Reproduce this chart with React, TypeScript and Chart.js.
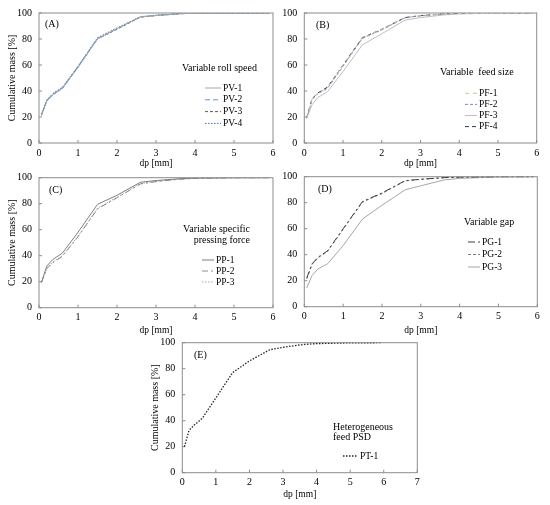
import { useEffect, useRef } from 'react';
import { Chart, registerables } from 'chart.js';

Chart.register(...registerables);

const SERIF = '"Liberation Serif", "Times New Roman", serif';

// sieve sizes dp [mm]
const sieveSizes = [0.063, 0.2, 0.35, 0.6, 1.0, 1.5, 2.0, 2.6, 3.0, 3.6, 4.0, 5.0, 5.9];

// (A) variable roll speed
const pv1 = [21, 32, 37, 42, 58, 80, 88, 97, 98, 99.4, 99.8, 100, 100];
const pv2 = [22, 33, 37.5, 42.5, 59, 80.5, 88, 97, 98.2, 99.5, 99.8, 100, 100];
const pv3 = [21.5, 32.5, 37, 42, 58.5, 80, 87.5, 96.8, 98, 99.4, 99.8, 100, 100];
const pv4 = [22, 33, 38, 43, 59, 81, 88.5, 97.2, 98.3, 99.5, 99.9, 100, 100];

// (B) variable feed size
const pf1 = [19, 34, 38.5, 42.5, 60, 81, 87.5, 96.5, 98, 99.3, 99.7, 100, 100];
const pf2 = [19, 33.5, 38, 42, 59, 80.5, 87, 96.3, 97.8, 99.2, 99.7, 100, 100];
const pf3 = [19, 29.5, 35, 39.5, 55, 75.5, 84, 94.5, 96.5, 98.5, 99.3, 99.9, 100];
const pf4 = [19.5, 34, 38.5, 43, 60, 81, 87.5, 96.5, 98, 99.3, 99.7, 100, 100];

// (C) variable specific pressing force
const pp1 = [19.5, 32, 37, 42, 58, 79.5, 86.5, 96.5, 97.8, 99.2, 99.7, 100, 100];
const pp2 = [19.5, 30, 34.5, 39.5, 54.5, 76, 84.5, 95.2, 97, 98.8, 99.4, 99.9, 100];
const pp3 = [19.5, 30.5, 35, 40, 55, 76.5, 85, 95.5, 97.2, 98.9, 99.5, 99.9, 100];

// (D) variable gap
const pg1 = [22, 33, 38, 43, 60, 81, 87.5, 97, 98, 99.3, 99.7, 100, 100];
const pg2 = [21.5, 32.5, 37.5, 42.5, 59.5, 80.5, 87, 96.8, 98, 99.2, 99.7, 100, 100];
const pg3 = [14.5, 24, 29, 33, 47, 67.5, 78, 90, 93, 97.5, 98.7, 99.8, 100];

// (E) heterogeneous feed
const pt1 = [20, 32.5, 36.5, 42, 57.5, 77, 86, 94.5, 96.5, 98.6, 99.3, 99.9, 100];

type Series = { label: string; values: number[]; color: string; dash: number[]; width?: number };

type PanelSpec = {
  box: [number, number, number, number]; // left, top, width, height (page px)
  area: [number, number, number, number]; // plot left, top, right, bottom (page px)
  xMax: number;
  yTitleX?: number;
  xTitleY: number;
  tag: string;
  tagPos: [number, number];
  heading: string[];
  headingPos: [number, number];
  headingAlign: 'left' | 'right';
  headingGap: number;
  keyPos: [number, number]; // line start x, first row y
  keyGap: number;
  keyLine: number;
  series: Series[];
};

const panels: PanelSpec[] = [
  {
    box: [0, 0, 280, 169], area: [39, 13, 273, 143], xMax: 6, yTitleX: 12, xTitleY: 163,
    tag: '(A)', tagPos: [45, 24],
    heading: ['Variable roll speed'], headingPos: [182, 68], headingAlign: 'left', headingGap: 11,
    keyPos: [205, 88], keyGap: 11.8, keyLine: 16,
    series: [
      { label: 'PV-1', values: pv1, color: '#a6a6a6', dash: [] },
      { label: 'PV-2', values: pv2, color: '#5b9bd5', dash: [5, 3] },
      { label: 'PV-3', values: pv3, color: '#595959', dash: [3, 2] },
      { label: 'PV-4', values: pv4, color: '#4472c4', dash: [1.5, 1.5] },
    ],
  },
  {
    box: [275, 0, 275, 169], area: [304.3, 13, 536.7, 143], xMax: 6, xTitleY: 163,
    tag: '(B)', tagPos: [316, 25],
    heading: ['Variable  feed size'], headingPos: [440, 72], headingAlign: 'left', headingGap: 11,
    keyPos: [465, 93.3], keyGap: 11.1, keyLine: 12,
    series: [
      { label: 'PF-1', values: pf1, color: '#c9c98f', dash: [4, 4] },
      { label: 'PF-2', values: pf2, color: '#9e7fc0', dash: [3, 2] },
      { label: 'PF-3', values: pf3, color: '#bfbfbf', dash: [] },
      { label: 'PF-4', values: pf4, color: '#1f3864', dash: [4, 3] },
    ],
  },
  {
    box: [0, 165, 280, 171], area: [39, 177.7, 273, 307.7], xMax: 6, yTitleX: 12, xTitleY: 330,
    tag: '(C)', tagPos: [49, 190],
    heading: ['Variable specific', 'pressing force'], headingPos: [250, 229], headingAlign: 'right', headingGap: 11,
    keyPos: [202, 260], keyGap: 11, keyLine: 12,
    series: [
      { label: 'PP-1', values: pp1, color: '#7f7f7f', dash: [] },
      { label: 'PP-2', values: pp2, color: '#8c8c8c', dash: [6, 3, 2, 3] },
      { label: 'PP-3', values: pp3, color: '#a6a6a6', dash: [1.5, 1.5] },
    ],
  },
  {
    box: [275, 165, 275, 171], area: [304.3, 176.7, 537.3, 306.7], xMax: 6, xTitleY: 330,
    tag: '(D)', tagPos: [318, 189],
    heading: ['Variable gap'], headingPos: [464, 222], headingAlign: 'left', headingGap: 11,
    keyPos: [468, 242], keyGap: 12.5, keyLine: 12,
    series: [
      { label: 'PG-1', values: pg1, color: '#404040', dash: [7, 3, 2, 3] },
      { label: 'PG-2', values: pg2, color: '#7f7f7f', dash: [3, 2] },
      { label: 'PG-3', values: pg3, color: '#a6a6a6', dash: [] },
    ],
  },
  {
    box: [130, 330, 300, 170], area: [182.3, 342.7, 417.3, 472.7], xMax: 7, yTitleX: 155, xTitleY: 494,
    tag: '(E)', tagPos: [194, 355],
    heading: ['Heterogeneous', 'feed PSD'], headingPos: [333, 427], headingAlign: 'left', headingGap: 10,
    keyPos: [343, 456], keyGap: 11, keyLine: 15,
    series: [
      { label: 'PT-1', values: pt1, color: '#262626', dash: [1.5, 1.5], width: 1.3 },
    ],
  },
];

const FRAME = '#8c8c8c';

const framePlugin = {
  id: 'frame',
  beforeDatasetsDraw(chart: any) {
    const { ctx, chartArea: a, scales } = chart;
    ctx.save();
    ctx.strokeStyle = FRAME;
    ctx.lineWidth = 1;
    ctx.strokeRect(a.left, a.top, a.right - a.left, a.bottom - a.top);
    // inside tick marks
    ctx.beginPath();
    for (const t of scales.x.ticks) {
      const px = scales.x.getPixelForValue(t.value);
      ctx.moveTo(px, a.bottom);
      ctx.lineTo(px, a.bottom - 3);
    }
    for (const t of scales.y.ticks) {
      const py = scales.y.getPixelForValue(t.value);
      ctx.moveTo(a.left, py);
      ctx.lineTo(a.left + 3, py);
    }
    ctx.stroke();
    ctx.restore();
  },
};

function makeNotesPlugin(p: PanelSpec) {
  const [bx, by] = p.box;
  return {
    id: 'notes',
    afterDraw(chart: any) {
      const { ctx } = chart;
      ctx.save();
      ctx.fillStyle = '#000';
      ctx.textBaseline = 'middle';
      ctx.font = `10px ${SERIF}`;
      ctx.textAlign = 'left';
      ctx.fillText(p.tag, p.tagPos[0] - bx, p.tagPos[1] - by);
      ctx.textAlign = p.headingAlign;
      p.heading.forEach((line, i) => {
        ctx.fillText(line, p.headingPos[0] - bx, p.headingPos[1] - by + i * p.headingGap);
      });
      ctx.font = `9.5px ${SERIF}`;
      ctx.textAlign = 'left';
      chart.data.datasets.forEach((ds: any, i: number) => {
        const x0 = p.keyPos[0] - bx;
        const y0 = p.keyPos[1] - by + i * p.keyGap;
        ctx.save();
        ctx.strokeStyle = ds.borderColor;
        ctx.lineWidth = ds.borderWidth;
        ctx.setLineDash(ds.borderDash || []);
        ctx.beginPath();
        ctx.moveTo(x0, y0);
        ctx.lineTo(x0 + p.keyLine, y0);
        ctx.stroke();
        ctx.restore();
        ctx.fillText(ds.label, x0 + p.keyLine + 2, y0);
      });
      ctx.restore();
    },
  };
}

function Panel({ spec }: { spec: PanelSpec }) {
  const canvasRef = useRef<HTMLCanvasElement>(null);
  const [left, top, width, height] = spec.box;
  const [al, at, ar, ab] = spec.area;

  useEffect(() => {
    if (!canvasRef.current) return;
    const yAxisWidth = al - left;
    const xAxisHeight = top + height - ab;
    const titleSize = 10;
    const xTitleSize = 9.5;
    const chart = new Chart(canvasRef.current, {
      type: 'line',
      data: {
        datasets: spec.series.map((s) => ({
          label: s.label,
          data: s.values.map((v, i) => ({ x: sieveSizes[i], y: v })),
          borderColor: s.color,
          backgroundColor: s.color,
          borderDash: s.dash,
          borderWidth: s.width ?? 1,
          pointRadius: 0,
          tension: 0,
          fill: false,
        })),
      },
      options: {
        responsive: false,
        animation: false,
        layout: { padding: { left: 0, top: at - top, right: left + width - ar, bottom: 0 } },
        plugins: { legend: { display: false }, tooltip: { enabled: false } },
        scales: {
          x: {
            type: 'linear',
            min: 0,
            max: spec.xMax,
            grid: { display: false, drawTicks: false },
            border: { display: false },
            ticks: { stepSize: 1, color: '#000', padding: 4, font: { family: SERIF, size: 10 } },
            title: {
              display: true,
              text: 'dp [mm]',
              color: '#000',
              font: { family: SERIF, size: xTitleSize },
              padding: { top: 0, bottom: Math.max(0, top + height - spec.xTitleY - xTitleSize * 0.6) },
            },
            afterFit: (scale: any) => {
              scale.height = xAxisHeight;
              scale.paddingLeft = 0;
              scale.paddingRight = 0;
            },
          },
          y: {
            min: 0,
            max: 100,
            grid: { display: false, drawTicks: false },
            border: { display: false },
            ticks: { stepSize: 20, color: '#000', padding: 7, font: { family: SERIF, size: 10 } },
            title: {
              display: spec.yTitleX !== undefined,
              text: 'Cumulative mass [%]',
              color: '#000',
              font: { family: SERIF, size: titleSize },
              padding: { top: (spec.yTitleX ?? 0) - left - titleSize * 0.6, bottom: 0 },
            },
            afterFit: (scale: any) => {
              scale.width = yAxisWidth;
              scale.paddingTop = 0;
              scale.paddingBottom = 0;
            },
          },
        },
      },
      plugins: [framePlugin, makeNotesPlugin(spec)],
    } as any);
    return () => chart.destroy();
  }, [spec]);

  return (
    <canvas
      ref={canvasRef}
      width={width}
      height={height}
      style={{ position: 'absolute', left, top, width, height }}
    />
  );
}

export default function App() {
  return (
    <div style={{ position: 'absolute', left: 0, top: 0, width: 550, height: 505, background: '#fff', overflow: 'hidden' }}>
      {panels.map((p) => (
        <Panel key={p.tag} spec={p} />
      ))}
    </div>
  );
}
